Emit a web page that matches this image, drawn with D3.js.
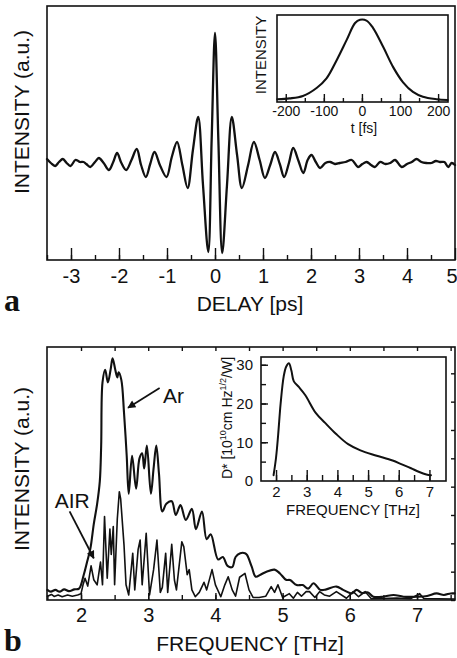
<!DOCTYPE html>
<html>
<head>
<meta charset="utf-8">
<script src="https://cdn.jsdelivr.net/npm/d3@7"></script>
<style>
  body { margin: 0; background: #fff; }
  svg { display: block; font-family: "Liberation Sans", Arial, sans-serif; }
  .trace { fill: none; stroke: #111; stroke-linejoin: round; stroke-linecap: round; }
  .frame { fill: none; stroke: #111; stroke-width: 1.6; }
  .tick line { stroke: #111; stroke-width: 1.4; }
  .tick text { fill: #111; }
</style>
</head>
<body>
<div id="fig"></div>
<script>
// ---- data ----
// (a) interferogram: [delay ps, intensity a.u.]
var delayTrace = [[-3.5,0.01],[-3.42,-0.03],[-3.33,-0.06],[-3.25,-0.02],[-3.17,0.01],[-3.09,-0.03],[-3.01,-0.06],
  [-2.91,0.0],[-2.85,-0.01],[-2.81,-0.02],[-2.74,-0.02],[-2.68,-0.04],[-2.6,-0.07],[-2.5,-0.02],[-2.42,0.02],
  [-2.32,-0.03],[-2.21,-0.10],[-2.12,-0.02],[-2.04,0.07],[-1.95,-0.03],[-1.85,-0.10],[-1.74,0.0],[-1.63,0.11],
  [-1.54,-0.05],[-1.44,-0.17],[-1.35,-0.04],[-1.26,0.08],[-1.14,-0.06],[-1.01,-0.17],[-0.9,0.03],[-0.79,0.18],
  [-0.68,-0.05],[-0.57,-0.28],[-0.46,0.1],[-0.35,0.43],[-0.25,-0.25],[-0.14,-0.92],[-0.07,0.2],[0,1.27],
  [0.07,0.2],[0.15,-0.93],[0.25,-0.25],[0.35,0.43],[0.46,0.05],[0.56,-0.28],[0.69,-0.05],[0.81,0.18],
  [0.93,0.0],[1.04,-0.18],[1.15,-0.05],[1.25,0.08],[1.35,-0.04],[1.44,-0.17],[1.54,-0.03],[1.63,0.12],
  [1.74,-0.01],[1.84,-0.13],[1.93,0.0],[2.01,0.05],[2.1,-0.02],[2.19,-0.08],[2.3,-0.03],[2.4,-0.02],
  [2.5,-0.04],[2.6,-0.03],[2.72,-0.02],[2.85,0.0],[2.98,-0.07],[3.07,-0.04],[3.16,-0.02],[3.25,-0.05],
  [3.33,-0.07],[3.44,-0.02],[3.55,-0.04],[3.65,-0.03],[3.75,0.0],[3.89,-0.07],[4.0,-0.04],[4.1,-0.02],
  [4.2,0.01],[4.3,-0.02],[4.4,-0.03],[4.51,-0.03],[4.6,-0.01],[4.69,-0.02],[4.78,-0.02],[4.86,-0.07],
  [4.93,-0.03],[5.0,-0.05]];

// (a) inset pulse: [t fs, intensity]
var pulseTrace = [[-222,0.01],[-190,0.02],[-155,0.05],[-119,0.15],[-93,0.27],[-66,0.5],[-40,0.75],
  [-18,0.96],[-5,1.0],[12,0.99],[29,0.9],[56,0.66],[82,0.41],[108,0.22],[134,0.1],[160,0.04],[196,0.01],[225,0.0]];

// (b) spectra: [frequency THz, intensity a.u.]
var arSpectrum = [[1.5,4],[1.55,3.3],[1.62,4.0],[1.68,3.3],[1.75,4.2],[1.82,3.5],[1.9,4.2],[1.97,4.5],
  [2.04,9.9],[2.09,15],[2.14,20.4],[2.19,30],[2.24,38],[2.28,47],[2.30,61],[2.32,86],[2.36,91],[2.40,86],
  [2.44,91],[2.47,95.5],[2.51,91],[2.54,88],[2.56,90],[2.60,87],[2.64,74],[2.68,57],[2.71,42],[2.76,57],
  [2.82,44],[2.87,56],[2.91,58],[2.94,52],[2.98,61],[3.04,42],[3.08,52],[3.12,61],[3.16,50],[3.21,35],
  [3.27,38],[3.35,39],[3.41,33.6],[3.48,37.5],[3.56,31.6],[3.65,36],[3.71,28],[3.80,35],[3.87,24],
  [3.93,26],[4.04,16],[4.11,17],[4.18,13.5],[4.25,13],[4.3,17],[4.37,18.5],[4.44,18.5],[4.47,17.8],
  [4.54,13.2],[4.6,9.2],[4.67,10],[4.76,11.2],[4.88,12],[4.96,10.5],[5.05,8],[5.11,7.9],[5.21,5.9],
  [5.3,5.9],[5.38,4.5],[5.46,6.6],[5.56,4],[5.65,4.2],[5.80,5.3],[5.9,4],[6.03,2.6],[6.10,4],[6.18,2.8],
  [6.27,3],[6.35,1.3],[6.5,1.3],[6.65,2],[6.8,1.3],[7.0,1.3],[7.15,1.6],[7.29,2.6],[7.4,2],[7.5,2.6],[7.56,2.6]];

var airSpectrum = [[1.5,1.5],[1.56,2.2],[1.6,1.4],[1.66,2.0],[1.72,1.3],[1.8,2.0],[1.87,1.5],[1.95,2],
  [2.0,2.5],[2.03,6],[2.06,8.6],[2.1,5.5],[2.15,13.5],[2.19,8],[2.24,6],[2.29,15],[2.32,6],[2.35,33],
  [2.39,8.6],[2.43,28],[2.45,18],[2.48,29],[2.50,6],[2.54,32],[2.57,42.8],[2.59,40],[2.64,21.7],[2.67,6],
  [2.71,2],[2.77,18.5],[2.80,4],[2.85,20],[2.88,23.7],[2.91,6],[2.97,26.4],[3.02,2],[3.08,12],[3.13,23.7],
  [3.18,3],[3.21,5],[3.26,18.5],[3.29,3],[3.35,22],[3.39,7.9],[3.42,4],[3.50,23],[3.53,21],[3.58,10],
  [3.61,12],[3.65,4],[3.70,1.3],[3.76,3],[3.83,7],[3.87,4],[3.95,12],[4.0,6],[4.08,1.3],[4.14,6],[4.19,9.2],
  [4.25,4],[4.3,1.5],[4.36,9],[4.44,10.5],[4.5,4],[4.56,1],[4.65,1],[4.75,1.5],[4.83,5.3],[4.88,3],[4.93,6],
  [5.0,1],[5.1,2.5],[5.16,0.7],[5.22,3],[5.28,1.5],[5.35,3.3],[5.40,3.3],[5.48,1],[5.55,3.3],[5.62,2],
  [5.7,1.5],[5.8,3.3],[5.95,0.7],[6.05,3.3],[6.13,1.3],[6.23,3.3],[6.32,0.5],[6.5,0.6],[6.7,0.8],[6.9,0.5],
  [7.04,2.5],[7.1,0.6],[7.3,0.5],[7.56,0.4]];

// (b) inset detectivity: [frequency THz, D* in 1e10 cm Hz^1/2 / W]
var detectivity = [[1.92,1.5],[2.0,6],[2.07,12],[2.15,20],[2.25,27],[2.33,29.5],[2.42,30.4],[2.5,28.5],
  [2.58,25.7],[2.75,24.2],[2.95,22.2],[3.3,17.5],[3.6,15],[3.95,12.2],[4.35,9.5],[4.75,7.9],[5.25,6.6],
  [5.8,5.3],[6.1,4.3],[6.4,3.3],[6.65,2.4],[6.9,1.7],[7.05,1.5]];

var delayTicks = [-3, -2, -1, 0, 1, 2, 3, 4, 5];
var pulseTicks = [-200, -100, 0, 100, 200];
var freqTicks = [2, 3, 4, 5, 6, 7];
var dstarTicks = [0, 10, 20, 30];

// ---- layout ----
var W = 457, H = 658;
var svg = d3.select("#fig").append("svg").attr("width", W).attr("height", H);

var ink = "#111";
// plain hyphen for negatives, like the original typesetting
var intFmt = function(d) { return String(d); };

// helper: axis with major + minor inward ticks
function bottomTicks(g, scale, major, minor, bigLen, smallLen, pad, fs) {
    g.append("g")
        .call(d3.axisBottom(scale).tickValues(minor).tickSize(-smallLen).tickFormat(""))
        .call(function(s) { s.select(".domain").remove(); });
    var ax = g.append("g")
        .call(d3.axisBottom(scale).tickValues(major).tickSize(-bigLen).tickPadding(pad).tickFormat(intFmt))
        .call(function(s) { s.select(".domain").remove(); });
    ax.selectAll("text").attr("font-size", fs).attr("font-family", null);
    return ax;
}

// ===== panel a =====
var xa = d3.scaleLinear().domain([-3.5, 5]).range([47, 455]);
var ya = d3.scaleLinear().domain([-1.0, 1.54]).range([260, 6]);

var ga = svg.append("g");
ga.append("path").datum(delayTrace).attr("class", "trace").attr("stroke-width", 2.3)
    .attr("d", d3.line().x(function(d) { return xa(d[0]); }).y(function(d) { return ya(d[1]); })
        .curve(d3.curveCatmullRom.alpha(0.5)));

var axA = ga.append("g").attr("transform", "translate(0,260)");
var labA = bottomTicks(axA, xa, delayTicks, d3.range(-3.5, 5, 0.5), 12, 5, 9, 20);
// last label sits right on the page edge, as in the original
labA.selectAll(".tick").filter(function(d) { return d === 5; }).select("text")
    .attr("text-anchor", "end").attr("x", 2);

ga.append("rect").attr("class", "frame").attr("x", 47).attr("y", 6).attr("width", 408).attr("height", 254);

ga.append("text").attr("transform", "translate(29,112) rotate(-90)").attr("text-anchor", "middle")
    .attr("font-size", 21).attr("fill", ink).text("INTENSITY (a.u.)");
ga.append("text").attr("x", 250).attr("y", 311).attr("text-anchor", "middle")
    .attr("font-size", 21).attr("fill", ink).text("DELAY [ps]");
ga.append("text").attr("x", 4).attr("y", 311).attr("font-family", "'Liberation Serif', 'Times New Roman', serif")
    .attr("font-weight", "bold").attr("font-size", 32).attr("fill", ink).text("a");

// inset a
var xi = d3.scaleLinear().domain([-223, 226]).range([277, 448]);
var yi = d3.scaleLinear().domain([-0.025, 1.06]).range([102, 15]);
var gi = svg.append("g");
gi.append("rect").attr("x", 277).attr("y", 15).attr("width", 171).attr("height", 87).attr("fill", "#fff");
gi.append("path").datum(pulseTrace).attr("class", "trace").attr("stroke-width", 2.1)
    .attr("d", d3.line().x(function(d) { return xi(d[0]); }).y(function(d) { return yi(d[1]); })
        .curve(d3.curveCatmullRom.alpha(0.5)));
var axI = gi.append("g").attr("transform", "translate(0,102)");
bottomTicks(axI, xi, pulseTicks, d3.range(-200, 201, 50), 8, 4, 4, 14);
gi.append("rect").attr("class", "frame").attr("x", 277).attr("y", 15).attr("width", 171).attr("height", 87);
gi.append("text").attr("transform", "translate(266,55) rotate(-90)").attr("text-anchor", "middle")
    .attr("font-size", 15).attr("fill", ink).text("INTENSITY");
gi.append("text").attr("x", 364).attr("y", 133).attr("text-anchor", "middle")
    .attr("font-size", 14).attr("fill", ink).text("t [fs]");

// ===== panel b =====
var xb = d3.scaleLinear().domain([1.494, 7.565]).range([47, 455]);
var yb = d3.scaleLinear().domain([0, 100]).range([600, 347]);

var gb = svg.append("g");
var specLine = d3.line().x(function(d) { return xb(d[0]); }).y(function(d) { return yb(d[1]); });
gb.append("path").datum(airSpectrum).attr("class", "trace").attr("stroke-width", 1.6)
    .attr("d", specLine.curve(d3.curveLinear));
gb.append("path").datum(arSpectrum).attr("class", "trace").attr("stroke-width", 2.1)
    .attr("d", specLine.curve(d3.curveCatmullRom.alpha(0.5)));

var axB = gb.append("g").attr("transform", "translate(0,600)");
bottomTicks(axB, xb, freqTicks, d3.range(1.5, 7.6, 0.5), 7, 5, 8, 20);
// small ticks on top and right edges
gb.append("g").attr("transform", "translate(0,347)")
    .call(d3.axisTop(xb).tickValues(d3.range(2, 7.6, 0.5)).tickSize(-4).tickFormat(""))
    .call(function(s) { s.select(".domain").remove(); });
gb.append("g").attr("transform", "translate(455,0)")
    .call(d3.axisRight(yb).tickValues(d3.range(0, 100, 11.2)).tickSize(-4).tickFormat(""))
    .call(function(s) { s.select(".domain").remove(); });

gb.append("rect").attr("class", "frame").attr("x", 47).attr("y", 347).attr("width", 408).attr("height", 253);

// arrows and labels
svg.append("defs").append("marker").attr("id", "head").attr("viewBox", "0 0 10 10")
    .attr("refX", 9).attr("refY", 5).attr("markerWidth", 11).attr("markerHeight", 8)
    .attr("markerUnits", "userSpaceOnUse").attr("orient", "auto")
    .append("path").attr("d", "M0,0L10,5L0,10z").attr("fill", ink);

gb.append("line").attr("x1", xb(3.17)).attr("y1", yb(83.8)).attr("x2", xb(2.70)).attr("y2", yb(76))
    .attr("stroke", ink).attr("stroke-width", 1.8).attr("marker-end", "url(#head)");
gb.append("text").attr("x", xb(3.22)).attr("y", yb(78)).attr("font-size", 21).attr("fill", ink).text("Ar");

gb.append("line").attr("x1", xb(1.83)).attr("y1", yb(35)).attr("x2", xb(2.19)).attr("y2", yb(16.5))
    .attr("stroke", ink).attr("stroke-width", 1.8).attr("marker-end", "url(#head)");
gb.append("text").attr("x", xb(1.61)).attr("y", yb(36.4)).attr("font-size", 21).attr("fill", ink).text("AIR");

gb.append("text").attr("transform", "translate(29,469) rotate(-90)").attr("text-anchor", "middle")
    .attr("font-size", 21).attr("fill", ink).text("INTENSITY (a.u.)");
gb.append("text").attr("x", 250).attr("y", 651).attr("text-anchor", "middle")
    .attr("font-size", 21).attr("fill", ink).text("FREQUENCY [THz]");
gb.append("text").attr("x", 4).attr("y", 651).attr("font-family", "'Liberation Serif', 'Times New Roman', serif")
    .attr("font-weight", "bold").attr("font-size", 32).attr("fill", ink).text("b");

// inset b
var xd = d3.scaleLinear().domain([1.51, 7.54]).range([261, 446]);
var yd = d3.scaleLinear().domain([0, 32]).range([481, 357]);
var gd = svg.append("g");
gd.append("rect").attr("x", 261).attr("y", 357).attr("width", 185).attr("height", 124).attr("fill", "#fff");
gd.append("path").datum(detectivity).attr("class", "trace").attr("stroke-width", 2)
    .attr("d", d3.line().x(function(d) { return xd(d[0]); }).y(function(d) { return yd(d[1]); })
        .curve(d3.curveCatmullRom.alpha(0.5)));
var axD = gd.append("g").attr("transform", "translate(0,481)");
bottomTicks(axD, xd, freqTicks, d3.range(2, 7.1, 0.5), 11, 6, 5, 15);

gd.append("g").attr("transform", "translate(261,0)")
    .call(d3.axisLeft(yd).tickValues(d3.range(5, 31, 5)).tickSize(-5).tickFormat(""))
    .call(function(s) { s.select(".domain").remove(); });
var ayD = gd.append("g").attr("transform", "translate(261,0)")
    .call(d3.axisLeft(yd).tickValues(dstarTicks).tickSize(-7).tickPadding(8).tickFormat(intFmt))
    .call(function(s) { s.select(".domain").remove(); });
ayD.selectAll("text").attr("font-size", 15).attr("font-family", null);
ayD.selectAll(".tick").filter(function(d) { return d === 0; }).select("line").remove();

gd.append("rect").attr("class", "frame").attr("x", 261).attr("y", 357).attr("width", 185).attr("height", 124);
gd.append("text").attr("x", 353).attr("y", 515).attr("text-anchor", "middle")
    .attr("font-size", 15).attr("fill", ink).text("FREQUENCY [THz]");

var dlab = gd.append("text").attr("transform", "translate(232,418) rotate(-90)").attr("text-anchor", "middle")
    .attr("font-size", 14).attr("fill", ink);
dlab.append("tspan").text("D* [10");
dlab.append("tspan").attr("font-size", 9).attr("dy", -6).text("10");
dlab.append("tspan").attr("dy", 6).text("cm Hz");
dlab.append("tspan").attr("font-size", 9).attr("dy", -6).text("1/2");
dlab.append("tspan").attr("dy", 6).text("/W]");
</script>
</body>
</html>
